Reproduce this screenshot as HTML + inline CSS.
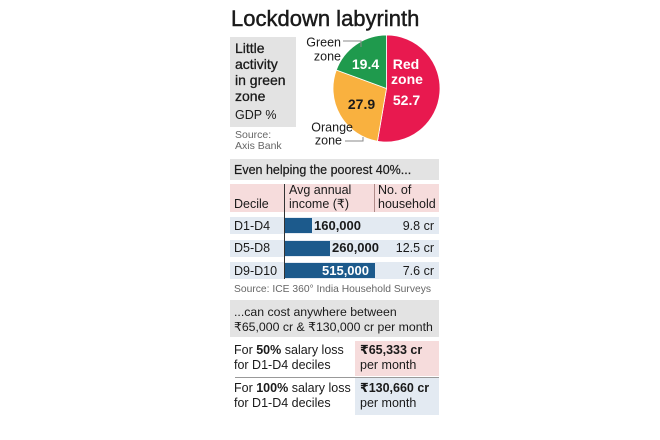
<!DOCTYPE html>
<html>
<head>
<meta charset="utf-8">
<style>
  html,body{margin:0;padding:0;background:#fff;}
  body{width:660px;height:440px;overflow:hidden;position:relative;font-family:"Liberation Sans","DejaVu Sans",sans-serif;color:#1a1a1a;}
  .a{position:absolute;white-space:nowrap;}
  .t{font-size:12.5px;line-height:14px;}
  .b{font-weight:bold;}
  .box{position:absolute;}
  .src{font-size:10.3px;line-height:12px;color:#666;}
</style>
</head>
<body>
<!-- Title -->
<div class="a" style="left:231px;top:8px;font-size:22px;line-height:22px;-webkit-text-stroke:0.45px #1a1a1a;">Lockdown labyrinth</div>

<!-- Section 1 -->
<div class="box" style="left:230px;top:37px;width:66px;height:90px;background:#e3e3e3;"></div>
<div class="a" style="left:235px;top:40px;font-size:14px;line-height:16px;-webkit-text-stroke:0.3px #1a1a1a;">Little<br>activity<br>in green<br>zone</div>
<div class="a" style="left:235px;top:108px;font-size:12.5px;line-height:14px;">GDP %</div>
<div class="a src" style="left:235px;top:129px;font-size:10.5px;">Source:</div>
<div class="a src" style="left:235px;top:140px;font-size:10.5px;">Axis Bank</div>

<svg class="box" style="left:0;top:0;" width="660" height="440" viewBox="0 0 660 440">
  <path d="M386.5,88.5 L386.5,35 A53.5,53.5 0 1 1 377.47,141.23 Z" fill="#e8194f" stroke="#fff" stroke-width="0.8"/>
  <path d="M386.5,88.5 L377.47,141.23 A53.5,53.5 0 0 1 336.28,70.06 Z" fill="#f9b13f" stroke="#fff" stroke-width="0.8"/>
  <path d="M386.5,88.5 L336.28,70.06 A53.5,53.5 0 0 1 386.5,35 Z" fill="#1f9a4d" stroke="#fff" stroke-width="0.8"/>
  <polyline points="343,41 361,41 361,47" fill="none" stroke="#888" stroke-width="1"/>
  <polyline points="345,141 363,141 363,137" fill="none" stroke="#888" stroke-width="1"/>
  <g font-family="Liberation Sans, DejaVu Sans, sans-serif" font-weight="bold" font-size="14" text-anchor="middle">
    <text x="365.5" y="69" fill="#fff">19.4</text>
    <text x="406" y="69" fill="#fff">Red</text>
    <text x="407" y="84" fill="#fff">zone</text>
    <text x="406.5" y="105" fill="#fff">52.7</text>
    <text x="361.5" y="109" fill="#1a1a1a">27.9</text>
  </g>
  <g font-family="Liberation Sans, DejaVu Sans, sans-serif" font-size="12.5" text-anchor="end" fill="#1a1a1a">
    <text x="341" y="46.5">Green</text>
    <text x="341" y="60.5">zone</text>
    <text x="353" y="131.5">Orange</text>
    <text x="342" y="144.5">zone</text>
  </g>
</svg>

<!-- Section 2 -->
<div class="box" style="left:230px;top:159px;width:209px;height:21px;background:#e3e3e3;"></div>
<div class="a t" style="left:234px;top:163px;-webkit-text-stroke:0.2px #1a1a1a;">Even helping the poorest 40%...</div>

<div class="box" style="left:230px;top:184px;width:209px;height:28px;background:#f6dcdc;"></div>
<div class="a t" style="left:234px;top:197px;">Decile</div>
<div class="a t" style="left:289px;top:183px;">Avg annual</div>
<div class="a t" style="left:289px;top:197px;">income (₹)</div>
<div class="a t" style="left:378px;top:183px;">No. of</div>
<div class="a t" style="left:378px;top:197px;">household</div>
<div class="box" style="left:374px;top:184px;width:1px;height:28px;background:#b08a88;"></div>

<div class="box" style="left:230px;top:217px;width:209px;height:17px;background:#e3eaf2;"></div>
<div class="box" style="left:230px;top:240px;width:209px;height:17px;background:#e3eaf2;"></div>
<div class="box" style="left:230px;top:262px;width:209px;height:17px;background:#e3eaf2;"></div>

<div class="box" style="left:285px;top:218px;width:27px;height:15px;background:#1c5a8c;"></div>
<div class="box" style="left:285px;top:241px;width:45px;height:15px;background:#1c5a8c;"></div>
<div class="box" style="left:285px;top:263px;width:90px;height:15px;background:#1c5a8c;"></div>
<div class="box" style="left:284px;top:184px;width:1px;height:95px;background:#333;"></div>

<div class="a t" style="left:234px;top:219px;">D1-D4</div>
<div class="a t" style="left:234px;top:241px;">D5-D8</div>
<div class="a t" style="left:234px;top:264px;">D9-D10</div>

<div class="a t b" style="left:314px;top:219px;font-size:13px;">160,000</div>
<div class="a t b" style="left:332px;top:241px;font-size:13px;">260,000</div>
<div class="a t b" style="right:291px;top:264px;font-size:13px;color:#fff;">515,000</div>

<div class="a t" style="right:226px;top:219px;">9.8 cr</div>
<div class="a t" style="right:226px;top:241px;">12.5 cr</div>
<div class="a t" style="right:226px;top:264px;">7.6 cr</div>

<div class="a src" style="left:234px;top:284px;">Source: ICE 360° India Household Surveys</div>

<!-- Section 3 -->
<div class="box" style="left:230px;top:300px;width:209px;height:37px;background:#e3e3e3;"></div>
<div class="a t" style="left:234px;top:305px;font-size:12.3px;">...can cost anywhere between</div>
<div class="a t" style="left:234px;top:320px;font-size:12.3px;">₹65,000 cr &amp; ₹130,000 cr per month</div>

<div class="box" style="left:355px;top:341px;width:84px;height:35px;background:#f6dcdc;"></div>
<div class="box" style="left:235px;top:377px;width:204px;height:1px;background:#999;"></div>
<div class="box" style="left:355px;top:378px;width:84px;height:37px;background:#e3eaf2;"></div>

<div class="a t" style="left:234px;top:343px;">For <b>50%</b> salary loss</div>
<div class="a t" style="left:234px;top:358px;">for D1-D4 deciles</div>
<div class="a t b" style="left:360px;top:343px;">₹65,333 cr</div>
<div class="a t" style="left:360px;top:358px;">per month</div>

<div class="a t" style="left:234px;top:381px;">For <b>100%</b> salary loss</div>
<div class="a t" style="left:234px;top:396px;">for D1-D4 deciles</div>
<div class="a t b" style="left:360px;top:381px;">₹130,660 cr</div>
<div class="a t" style="left:360px;top:396px;">per month</div>
</body>
</html>
